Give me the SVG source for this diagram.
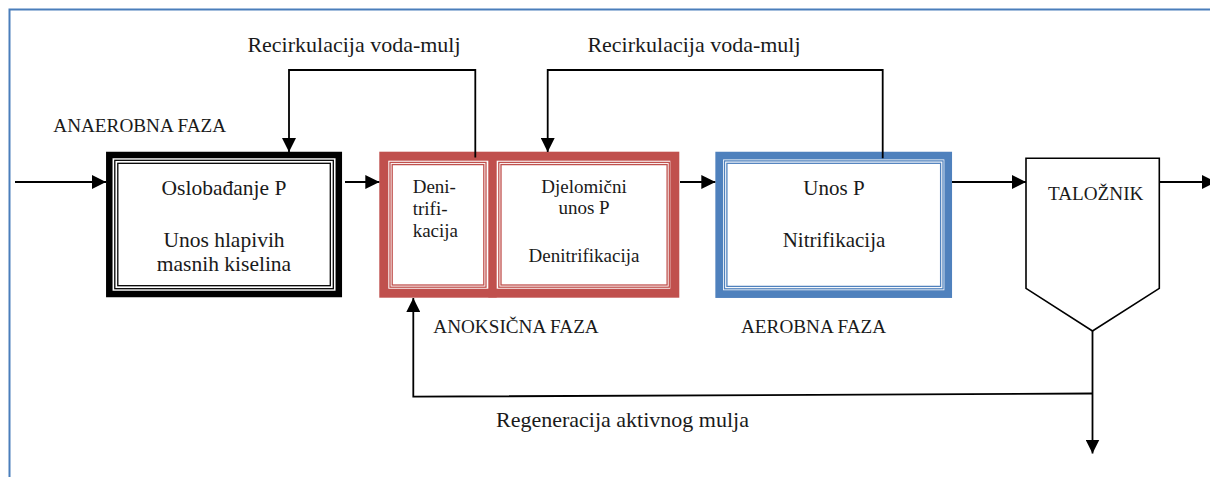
<svg xmlns="http://www.w3.org/2000/svg" width="1210" height="477" viewBox="0 0 1210 477">
<defs>
<marker id="ah" markerUnits="userSpaceOnUse" markerWidth="14" markerHeight="14" viewBox="0 0 14 14" refX="14" refY="7" orient="auto">
<path d="M0,0 L14,7 L0,14 Z" fill="#000"/>
</marker>
<style>
text{font-family:"Liberation Serif","Times New Roman",serif;fill:#1a1a1a}
.lab{font-size:22px}
.cap{font-size:19.2px}
.conn{fill:none;stroke:#000;stroke-width:1.8}
.thin{fill:none;stroke-width:1.3}
.mid{text-anchor:middle}
</style>
</defs>
<rect x="0" y="0" width="1210" height="477" fill="#fff"/>
<rect x="9.5" y="9.5" width="1220" height="480" fill="none" stroke="#4a7ebb" stroke-width="2"/>

<g id="anaerobna">
<rect x="109.3" y="155" width="229.5" height="139" fill="#fff" stroke="#000" stroke-width="6.5"/>
<rect x="114.8" y="160.3" width="218.5" height="128.4" class="thin" stroke="#000"/>
<rect x="117.8" y="163.3" width="212.5" height="122.4" class="thin" stroke="#000"/>
<text x="224" y="195" class="mid" font-size="21.5">Oslobađanje P</text>
<text x="224" y="247" class="mid" font-size="21.5">Unos hlapivih</text>
<text x="224" y="270.5" class="mid" font-size="21.5">masnih kiselina</text>
</g>

<g id="anoksicna">
<rect x="383.8" y="156.2" width="291" height="137" fill="#fff" stroke="#c0504d" stroke-width="9"/>
<rect x="488.3" y="152" width="8.4" height="145.5" fill="#c0504d"/>
<rect x="390" y="162.4" width="96" height="124.8" class="thin" stroke="#c0504d"/>
<rect x="392.2" y="164.6" width="91.6" height="120.4" class="thin" stroke="#c0504d"/>
<rect x="498.8" y="162.4" width="170.5" height="124.8" class="thin" stroke="#c0504d"/>
<rect x="501" y="164.6" width="166.1" height="120.4" class="thin" stroke="#c0504d"/>
<text x="412.7" y="193" font-size="19">Deni-</text>
<text x="412.7" y="214.8" font-size="19">trifi-</text>
<text x="412.7" y="236.6" font-size="19">kacija</text>
<text x="584" y="193" class="mid" font-size="19">Djelomični</text>
<text x="584" y="214.3" class="mid" font-size="19">unos P</text>
<text x="584" y="262" class="mid" font-size="19">Denitrifikacija</text>
</g>

<g id="aerobna">
<rect x="719.2" y="155.6" width="229" height="138.5" fill="#fff" stroke="#4f81bd" stroke-width="7.7"/>
<rect x="724.5" y="160.9" width="218.5" height="127.9" class="thin" stroke="#4f81bd"/>
<rect x="726.9" y="163.3" width="213.7" height="123.1" class="thin" stroke="#4f81bd"/>
<text x="834" y="195" class="mid" font-size="21">Unos P</text>
<text x="834" y="246.7" class="mid" font-size="21">Nitrifikacija</text>
</g>

<g id="talozhnik">
<path d="M1026,158.3 H1159.3 V288.3 L1092.5,331 L1026,288.3 Z" fill="#fff" stroke="#000" stroke-width="1.6"/>
<text x="1095.7" y="200" class="mid cap">TALOŽNIK</text>
</g>

<g id="connectors">
<path class="conn" d="M15,182 H106" marker-end="url(#ah)"/>
<path class="conn" d="M345,182 H379.3" marker-end="url(#ah)"/>
<path class="conn" d="M680,182 H715.3" marker-end="url(#ah)"/>
<path class="conn" d="M952,182 H1026" marker-end="url(#ah)"/>
<path class="conn" d="M1159.3,182 H1216" marker-end="url(#ah)"/>
<path class="conn" d="M475.3,157.5 V70 H289 V152" marker-end="url(#ah)"/>
<path class="conn" d="M882.7,158.3 V70 H547.7 V152" marker-end="url(#ah)"/>
<path class="conn" d="M1092.5,331 V453.5" marker-end="url(#ah)"/>
<path class="conn" d="M1092.5,393.5 L413.3,396.7 V298" marker-end="url(#ah)"/>
</g>

<g id="labels">
<text x="354" y="52.3" class="mid lab">Recirkulacija voda-mulj</text>
<text x="694" y="52.3" class="mid lab">Recirkulacija voda-mulj</text>
<text x="53.3" y="131.7" class="cap">ANAEROBNA FAZA</text>
<text x="433.3" y="333.3" class="cap">ANOKSIČNA FAZA</text>
<text x="741" y="333.3" class="cap">AEROBNA FAZA</text>
<text x="496" y="427" class="lab">Regeneracija aktivnog mulja</text>
</g>
</svg>
